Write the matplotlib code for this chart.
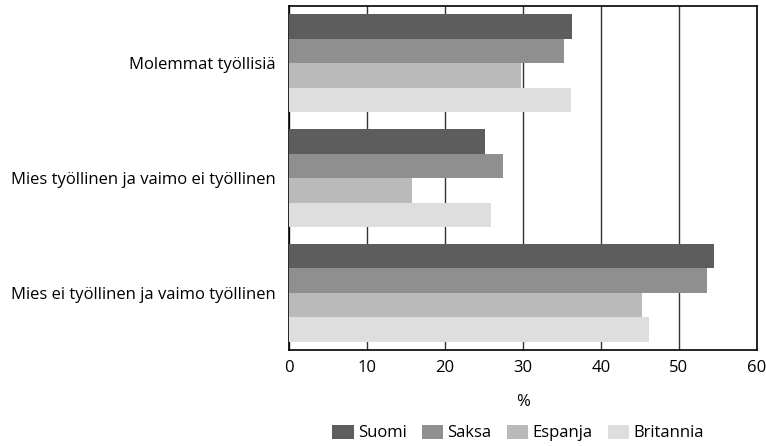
import matplotlib
matplotlib.use("Agg")
import matplotlib.pyplot as plt
import numpy as np

categories = ["Molemmat työllisiä",
              "Mies työllinen ja vaimo ei työllinen",
              "Mies ei työllinen ja vaimo työllinen"]
series_names = ["Suomi", "Saksa", "Espanja", "Britannia"]
suomi = [36.3, 25.1, 54.5]
saksa = [35.3, 27.4, 53.6]
espanja = [29.7, 15.8, 45.3]
britannia = [36.2, 25.9, 46.2]
xticks = [0, 10, 20, 30, 40, 50, 60]

values = [suomi, saksa, espanja, britannia]
colors = ["#5d5d5d", "#8f8f8f", "#bababa", "#dedede"]

plt.rcParams['font.family'] = ['Open Sans', 'DejaVu Sans']
FS = 12

fig = plt.figure(figsize=(7.66, 4.46), dpi=100)
ax = fig.add_axes([0.3773, 0.2152, 0.6107, 0.7713])

n = len(series_names)
group_w = 0.855
bar_h = group_w / n
y = np.arange(len(categories))
for i, (name, vals, c) in enumerate(zip(series_names, values, colors)):
    offs = -group_w / 2 + bar_h * (i + 0.5)
    ax.barh(y + offs, vals, height=bar_h, color=c, label=name, zorder=3)

ax.set_ylim(len(categories) - 0.5, -0.5)
ax.set_xlim(0, 60)
ax.set_xticks(xticks)
ax.set_xticklabels([str(t) for t in xticks], fontsize=FS)
ax.set_yticks(y)
ax.set_yticklabels(categories, fontsize=FS)
ax.tick_params(axis='both', length=0)
ax.tick_params(axis='x', pad=7)
ax.tick_params(axis='y', pad=9.5)
ax.grid(axis='x', color='#333333', linewidth=1.0, zorder=1)
for s in ax.spines.values():
    s.set_color('black')
    s.set_linewidth(1.2)
ax.set_xlabel("%", fontsize=FS, labelpad=13)

handles, labels = ax.get_legend_handles_labels()
fig.legend(handles, labels, loc='center', bbox_to_anchor=(518 / 766, 1 - 433 / 446),
           ncol=4, frameon=False, fontsize=FS, handlelength=1.3, handleheight=0.9,
           handletextpad=0.25, columnspacing=0.9, borderpad=0, borderaxespad=0)

fig.savefig("out.png", dpi=100)
